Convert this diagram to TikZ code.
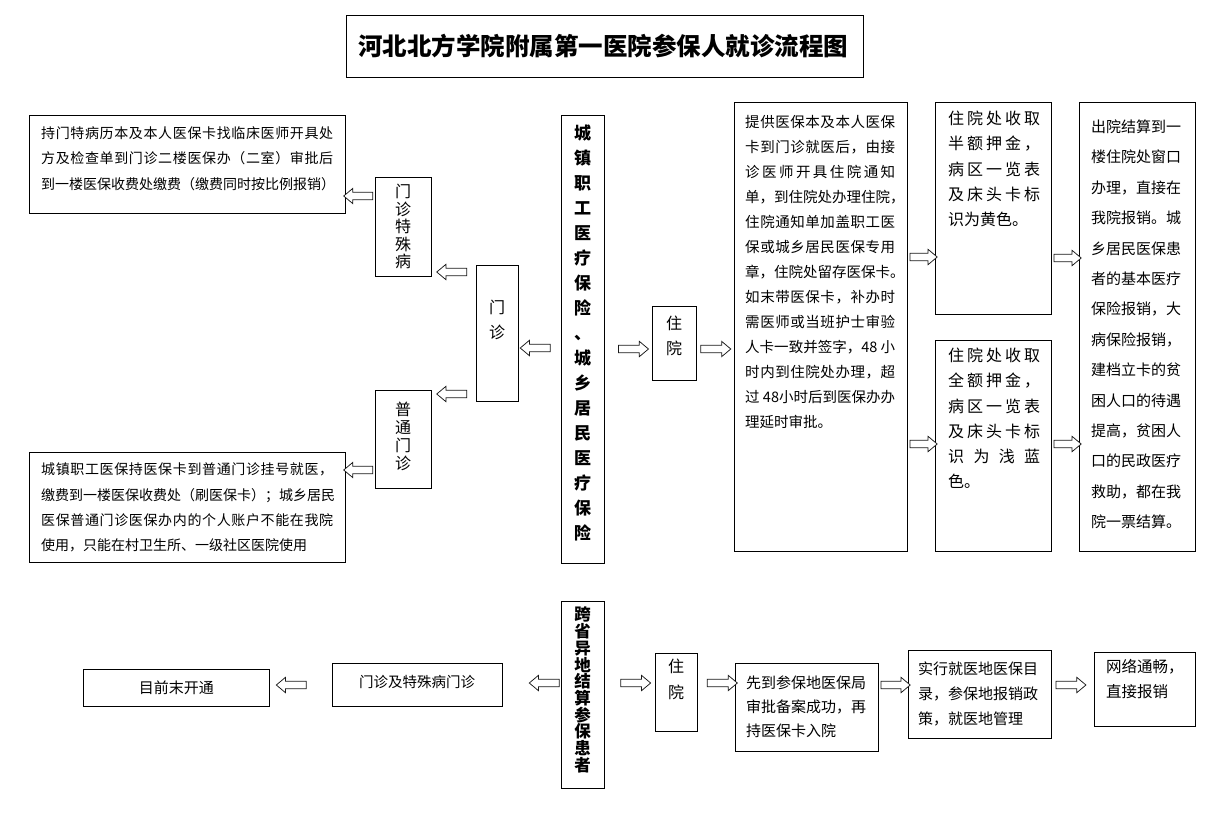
\documentclass[tikz,border=0pt]{standalone}
\usepackage{fontspec}
\setmainfont{Noto Sans CJK SC}
\usetikzlibrary{calc,shapes.arrows}
\def\spreadline#1#2{\makebox[#1][s]{\spreadchar#2\relax}}
\def\spreadchar#1{#1\futurelet\spreadnext\spreadtest}
\def\spreadtest{\ifx\spreadnext\relax\expandafter\spreadstop\else\hfill\expandafter\spreadchar\fi}
\def\spreadstop#1{}

\begin{document}
\begin{tikzpicture}[x=1pt,y=-1pt,
	box/.style={draw, line width=0.9pt, inner sep=0pt, anchor=north west},
	txt/.style={inner sep=0pt, anchor=north west, align=left},
	col/.style={inner sep=0pt, anchor=north, align=center},
	blk/.default=0.5,
	blk/.style={to path={let \p1=($(\tikztotarget)-(\tikztostart)$), \n1={min(veclen(\x1,\y1),30)}, \n2={atan2(\y1,\x1)} in
		($(\tikztostart)!#1!(\tikztotarget)$) node[single arrow, draw=black!90, fill=white, line width=0.75pt, inner sep=3.3pt,
		single arrow head extend=4pt, single arrow tip angle=80, minimum height=\n1, shape border rotate=\n2] {}}}]
			%%%%% START %%%%%
			
			\path[use as bounding box, fill=white] (0,0) rectangle (1231,817);
			
			\node[box, minimum width=517, minimum height=62] (title) at (346,15) {};
			\node[inner sep=0pt, anchor=west, font=\fontsize{24.5}{24.5}\selectfont\bfseries] (titletext) at (358,46) {河北北方学院附属第一医院参保人就诊流程图};
			
			% outpatient branch
			\node[box, minimum width=316, minimum height=98] (mtdesc) at (29,115) {};
			\node[txt, font=\fontsize{14}{25.5}\selectfont] (mtdesctext) at (41,126) {\spreadline{292pt}{持门特病历本及本人医保卡找临床医师开具处}\\\spreadline{292pt}{方及检查单到门诊二楼医保办（二室）审批后}\\到一楼医保收费处缴费（缴费同时按比例报销）};
			\node[box, minimum width=56, minimum height=99] (tsb) at (375,177) {};
			\node[col, font=\fontsize{16}{17.5}\selectfont] (tsbtext) at (403,184) {门\\诊\\特\\殊\\病};
			\node[box, minimum width=42, minimum height=136] (mz) at (476,265) {};
			\node[col, font=\fontsize{16}{25}\selectfont] (mztext) at (497,300) {门\\诊};
			\node[box, minimum width=56, minimum height=98] (pt) at (375,390) {};
			\node[col, font=\fontsize{16}{18}\selectfont] (pttext) at (403,402) {普\\通\\门\\诊};
			\node[box, minimum width=316, minimum height=110] (ptdesc) at (29,452) {};
			\node[txt, font=\fontsize{14}{25.3}\selectfont] (ptdesctext) at (41,463) {\spreadline{292pt}{城镇职工医保持医保卡到普通门诊挂号就医，}\\缴费到一楼医保收费处（刷医保卡）；城乡居民\\\spreadline{292pt}{医保普通门诊医保办内的个人账户不能在我院}\\使用，只能在村卫生所、一级社区医院使用};
			
			\node[box, minimum width=43, minimum height=448] (urban) at (561,115) {};
			\node[col, font=\fontsize{17}{25}\selectfont\bfseries] (urbantext) at (582.5,124.5) {城\\镇\\职\\工\\医\\疗\\保\\险\\、\\城\\乡\\居\\民\\医\\疗\\保\\险};
			
			% inpatient branch
			\node[box, minimum width=44, minimum height=74] (zy) at (652,306) {};
			\node[col, font=\fontsize{16}{24.5}\selectfont] (zytext) at (674,316) {住\\院};
			\node[box, minimum width=173, minimum height=449] (zydesc) at (734,102) {};
			\node[txt, font=\fontsize{14.5}{25}\selectfont] (zydesctext) at (745,114.75) {\spreadline{150pt}{提供医保本及本人医保}\\\spreadline{150pt}{卡到门诊就医后，由接}\\\spreadline{150pt}{诊医师开具住院通知}\\单，到住院处办理住院，\\\spreadline{150pt}{住院通知单加盖职工医}\\\spreadline{150pt}{保或城乡居民医保专用}\\章，住院处留存医保卡。\\\spreadline{150pt}{如末带医保卡，补办时}\\\spreadline{150pt}{需医师或当班护士审验}\\\spreadline{150pt}{人卡一致并签字，{48 }小}\\\spreadline{150pt}{时内到住院处办理，超}\\\spreadline{150pt}{{过 48}小时后到医保办办}\\理延时审批。};
			\node[box, minimum width=116, minimum height=212] (half) at (935,102) {};
			\node[txt, font=\fontsize{16}{25.2}\selectfont] (halftext) at (948,111) {\spreadline{92pt}{住院处收取}\\\spreadline{92pt}{半额押金，}\\\spreadline{92pt}{病区一览表}\\\spreadline{92pt}{及床头卡标}\\识为黄色。};
			\node[box, minimum width=116, minimum height=211] (full) at (935,340) {};
			\node[txt, font=\fontsize{16}{25.2}\selectfont] (fulltext) at (948,348) {\spreadline{92pt}{住院处收取}\\\spreadline{92pt}{全额押金，}\\\spreadline{92pt}{病区一览表}\\\spreadline{92pt}{及床头卡标}\\\spreadline{92pt}{识为浅蓝}\\色。};
			\node[box, minimum width=116, minimum height=449] (settle) at (1079,102) {};
			\node[txt, font=\fontsize{15}{30.4}\selectfont] (settletext) at (1091,119.5) {出院结算到一\\楼住院处窗口\\办理，直接在\\我院报销。城\\乡居民医保患\\者的基本医疗\\保险报销，大\\病保险报销，\\建档立卡的贫\\困人口的待遇\\提高，贫困人\\口的民政医疗\\救助，都在我\\院一票结算。};
			
			\path (tsb.west |- 0,196) to[blk] (mtdesc.east |- 0,196);
			\path (mz.west |- 0,272) to[blk] (tsb.east |- 0,272);
			\path (mz.west |- 0,394) to[blk] (pt.east |- 0,394);
			\path (pt.west |- 0,470) to[blk] (ptdesc.east |- 0,470);
			\path (urban.west |- 0,348) to[blk=0.56] (mz.east |- 0,348);
			\path (urban.east |- 0,349) to[blk=0.56] (zy.west |- 0,349);
			\path (zy.east |- 0,349) to[blk=0.45] (zydesc.west |- 0,349);
			\path (zydesc.east |- 0,257) to[blk] (half.west |- 0,257);
			\path (zydesc.east |- 0,444) to[blk] (full.west |- 0,444);
			\path (half.east |- 0,258) to[blk] (settle.west |- 0,258);
			\path (full.east |- 0,444) to[blk] (settle.west |- 0,444);
			
			% cross-province patients
			\node[box, minimum width=186, minimum height=37] (closed) at (83,669) {};
			\node[inner sep=0pt, font=\fontsize{15}{15}\selectfont] (closedtext) at (closed.center) {目前末开通};
			\node[box, minimum width=170, minimum height=43] (outp) at (332,663) {};
			\node[inner sep=0pt, font=\fontsize{14.5}{14.5}\selectfont] (outptext) at (417,682) {门诊及特殊病门诊};
			\node[box, minimum width=43, minimum height=187] (cross) at (561,601) {};
			\node[col, font=\fontsize{16.5}{16.7}\selectfont\bfseries] (crosstext) at (582.5,606.75) {跨\\省\\异\\地\\结\\算\\参\\保\\患\\者};
			\node[box, minimum width=42, minimum height=78] (zy2) at (655,653) {};
			\node[col, font=\fontsize{16}{26}\selectfont] (zy2text) at (676,659) {住\\院};
			\node[box, minimum width=143, minimum height=88] (reg) at (735,663) {};
			\node[txt, font=\fontsize{15}{24}\selectfont] (regtext) at (746,675.5) {先到参保地医保局\\审批备案成功，再\\持医保卡入院};
			\node[box, minimum width=143, minimum height=88] (policy) at (908,650) {};
			\node[txt, font=\fontsize{15}{25}\selectfont] (policytext) at (918,661.5) {实行就医地医保目\\录，参保地报销政\\策，就医地管理};
			\node[box, minimum width=101, minimum height=74] (net) at (1094,652) {};
			\node[txt, font=\fontsize{15.5}{25}\selectfont] (nettext) at (1106,659.25) {网络通畅，\\直接报销};
			
			\path (outp.west |- 0,685) to[blk=0.62] (closed.east |- 0,685);
			\path (cross.west |- 0,683) to[blk=0.25] (outp.east |- 0,683);
			\path (cross.east |- 0,683) to[blk=0.57] (zy2.west |- 0,683);
			\path (zy2.east |- 0,683) to[blk=0.6] (reg.west |- 0,683);
			\path (reg.east |- 0,685) to[blk] (policy.west |- 0,685);
			\path (policy.east |- 0,685) to[blk=0.4] (net.west |- 0,685);
			
			%%%%% END %%%%%
\end{tikzpicture}
\end{document}
